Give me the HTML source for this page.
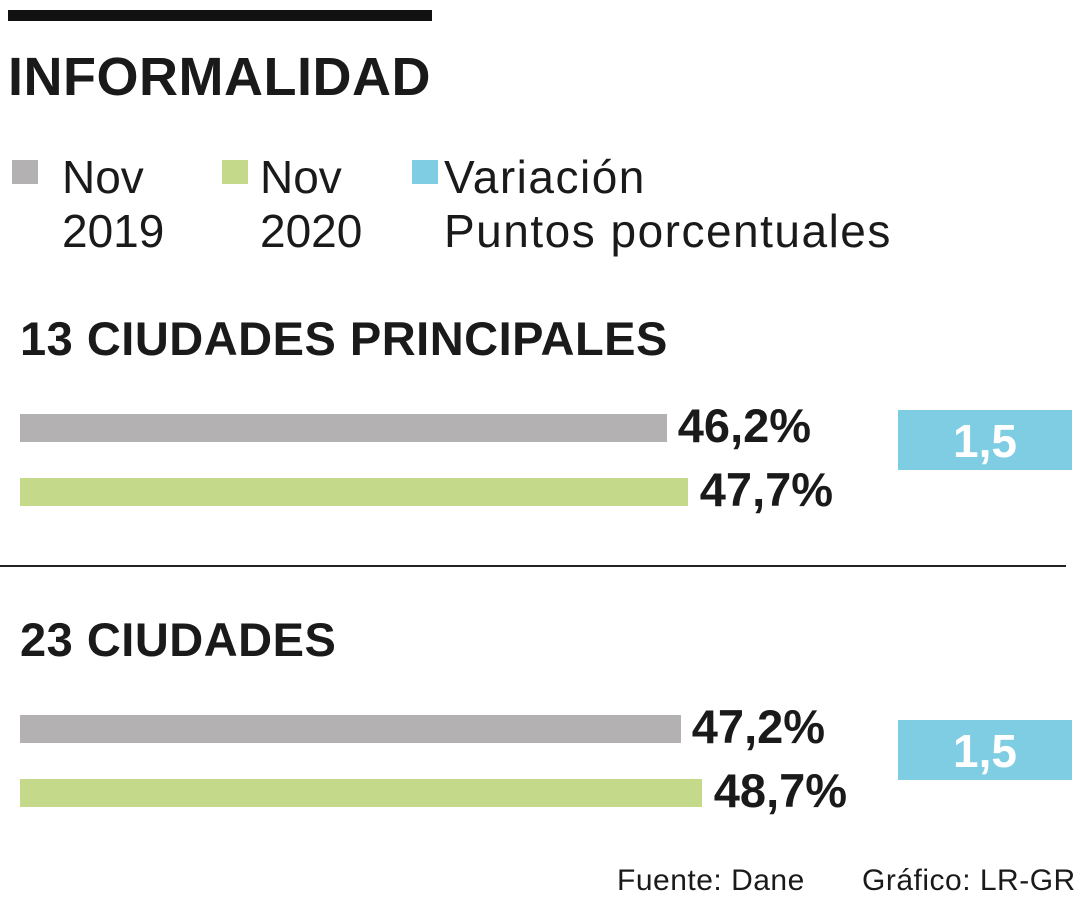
<!DOCTYPE html>
<html><head><meta charset="utf-8"><style>
body{margin:0;width:1080px;height:900px;background:#fff;font-family:"Liberation Sans",sans-serif;color:#1a1a1a;position:relative;overflow:hidden}
.a{position:absolute;white-space:nowrap}
.b{font-weight:bold}
</style></head><body>
<div class="a" style="left:8px;top:10px;width:424px;height:11px;background:#111"></div>
<div class="a b" style="left:8px;top:46px;font-size:54px;letter-spacing:0.5px">INFORMALIDAD</div>
<div class="a" style="left:12px;top:160px;width:26px;height:24px;background:#b3b1b1"></div>
<div class="a" style="left:62px;top:150px;font-size:46px;line-height:54px;font-weight:300">Nov<br>2019</div>
<div class="a" style="left:222px;top:160px;width:26px;height:24px;background:#c5d98a"></div>
<div class="a" style="left:260px;top:150px;font-size:46px;line-height:54px;font-weight:300">Nov<br>2020</div>
<div class="a" style="left:412px;top:160px;width:26px;height:24px;background:#7fcde3"></div>
<div class="a" style="left:444px;top:150px;font-size:46px;line-height:54px;font-weight:300;letter-spacing:1.5px">Variación<br>Puntos porcentuales</div>
<div class="a" style="left:0;top:565px;width:1066px;height:2px;background:#222"></div>
<div class="a" style="left:617px;top:864px;font-size:30px;font-weight:300;letter-spacing:0.5px">Fuente: Dane</div>
<div class="a" style="left:862px;top:864px;font-size:30px;font-weight:300;letter-spacing:0.5px">Gráfico: LR-GR</div>
<div id="chart"></div>
<script>
const groups=["13 CIUDADES PRINCIPALES","23 CIUDADES"];
const nov2019=[46.2,47.2];
const nov2020=[47.7,48.7];
const variation=[1.5,1.5];
const root=document.getElementById('chart');
const x=v=>v*14;
const fmt=v=>v.toFixed(1).replace('.',',');
function add(css,text){const d=document.createElement('div');d.className='a';d.style.cssText=css;if(text!==undefined)d.textContent=text;root.appendChild(d);return d;}
groups.forEach((g,i)=>{
 const off=i*301;
 let h=add(`left:20px;top:${311+off}px;font-size:47px;font-weight:bold;letter-spacing:0.5px`,g);
 
 
 let b1=add(`left:20px;top:${414+off}px;width:${x(nov2019[i])}px;height:28px;background:#b3b1b1`);
 
 
 let l1=add(`left:${20+x(nov2019[i])+11}px;top:${398+off}px;font-size:47px;font-weight:bold`,fmt(nov2019[i])+'%');
 
 
 let b2=add(`left:20px;top:${478+off}px;width:${x(nov2020[i])}px;height:28px;background:#c5d98a`);
 
 
 let l2=add(`left:${20+x(nov2020[i])+12}px;top:${462+off}px;font-size:47px;font-weight:bold`,fmt(nov2020[i])+'%');
 
 
 let v=add(`left:898px;top:${410+off+(i?9:0)}px;width:174px;height:60px;background:#7fcde3;color:#fff;font-size:46px;font-weight:bold;text-align:center;line-height:62px`,fmt(variation[i]));
 
 
});
</script>
</body></html>
